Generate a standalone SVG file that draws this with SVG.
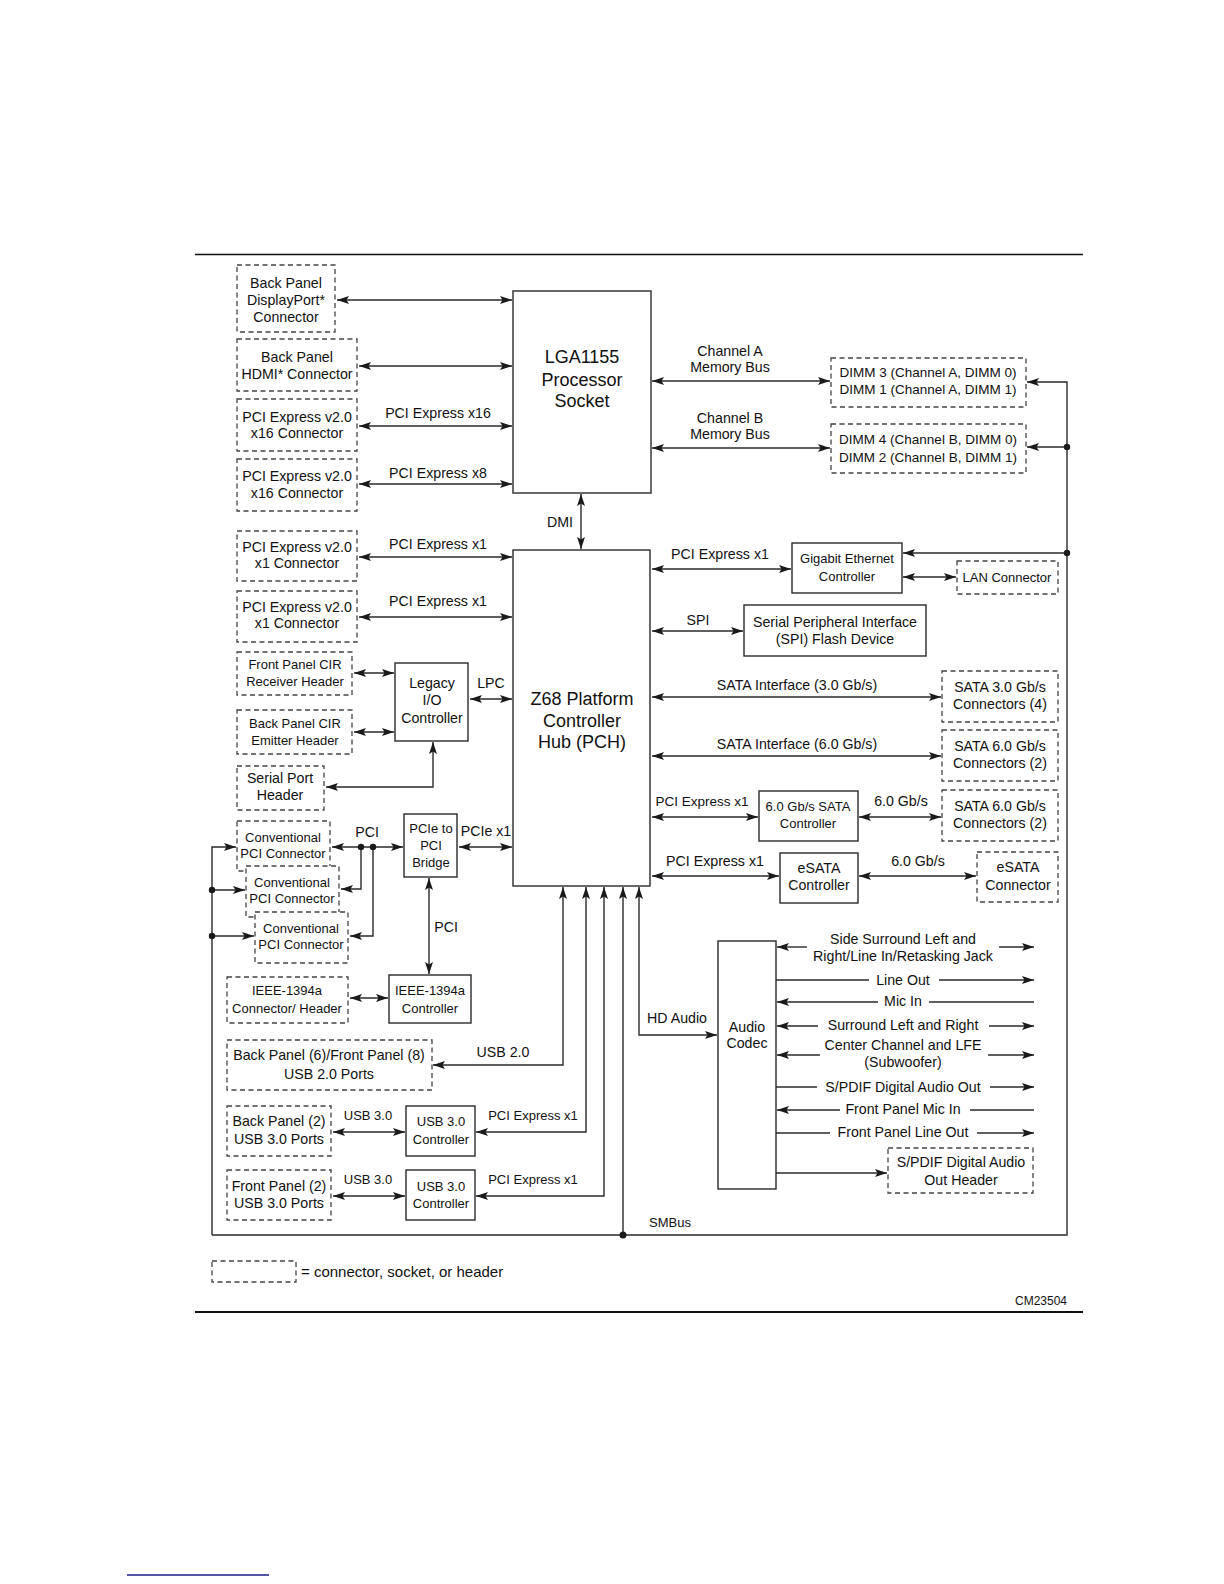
<svg xmlns="http://www.w3.org/2000/svg" width="1224" height="1584" viewBox="0 0 1224 1584">
<defs>
<marker id="ah" viewBox="0 0 12 8" refX="12" refY="4" markerWidth="12" markerHeight="8" markerUnits="userSpaceOnUse" orient="auto-start-reverse">
<path d="M0,0 L12,4 L0,8 L2.5,4 z" fill="#1a1a1a"/>
</marker>
<style>
text{font-family:"Liberation Sans",Arial,sans-serif;font-size:14.2px;fill:#111;text-anchor:middle}
.big{font-size:18px}
.s13{font-size:13px}
.s135{font-size:13.5px}
.solid{fill:#fff;stroke:#2a2a2a;stroke-width:1.4}
.dash{fill:#fff;stroke:#444;stroke-width:1.3;stroke-dasharray:5 3.5}
.ln{fill:none;stroke:#2a2a2a;stroke-width:1.4}
.bi{marker-start:url(#ah);marker-end:url(#ah)}
.en{marker-end:url(#ah)}
.dot{fill:#1a1a1a}
</style>
</defs>
<rect width="1224" height="1584" fill="#fff"/>
<line x1="195" y1="254.5" x2="1083" y2="254.5" stroke="#111" stroke-width="1.5"/>
<line x1="195" y1="1312" x2="1083" y2="1312" stroke="#111" stroke-width="2.2"/>
<line x1="127" y1="1575" x2="269" y2="1575" stroke="#1c1c8a" stroke-width="1.5"/>
<text x="1067" y="1305" style="text-anchor:end;font-size:12px">CM23504</text>

<g id="connectors">
<line class="ln bi" x1="337" y1="300" x2="512" y2="300"/>
<line class="ln bi" x1="359" y1="366" x2="512" y2="366"/>
<line class="ln bi" x1="359" y1="426" x2="512" y2="426"/>
<text x="438" y="418">PCI Express x16</text>
<line class="ln bi" x1="359" y1="484" x2="512" y2="484"/>
<text x="438" y="478">PCI Express x8</text>
<line class="ln bi" x1="652" y1="381" x2="830" y2="381"/>
<text x="730" y="356">Channel A</text><text x="730" y="372">Memory Bus</text>
<line class="ln bi" x1="652" y1="448" x2="830" y2="448"/>
<text x="730" y="423">Channel B</text><text x="730" y="439">Memory Bus</text>
<line class="ln bi" x1="581" y1="494" x2="581" y2="549"/>
<text x="560" y="527">DMI</text>
<line class="ln bi" x1="359" y1="557" x2="512" y2="557"/>
<text x="438" y="549">PCI Express x1</text>
<line class="ln bi" x1="359" y1="617" x2="512" y2="617"/>
<text x="438" y="606">PCI Express x1</text>
<line class="ln bi" x1="354" y1="673" x2="394" y2="673"/>
<line class="ln bi" x1="354" y1="732" x2="394" y2="732"/>
<line class="ln bi" x1="470" y1="699" x2="512" y2="699"/>
<text x="491" y="688">LPC</text>
<path class="ln bi" d="M433,742 V787 H326"/>
<line class="ln bi" x1="332" y1="847" x2="403" y2="847"/>
<text x="367" y="837">PCI</text>
<path class="ln en" d="M361,847 V889 H341"/>
<path class="ln en" d="M373,847 V936 H350"/>
<circle class="dot" cx="361" cy="847" r="3.2"/>
<circle class="dot" cx="373" cy="847" r="3.2"/>
<line class="ln bi" x1="459" y1="847" x2="512" y2="847"/>
<text x="486" y="836">PCIe x1</text>
<line class="ln bi" x1="429" y1="878" x2="429" y2="974"/>
<text x="446" y="932">PCI</text>
<line class="ln bi" x1="350" y1="998" x2="388" y2="998"/>
<path class="ln en" d="M212,1235 V847 H236"/>
<line class="ln en" x1="212" y1="890" x2="245" y2="890"/>
<line class="ln en" x1="212" y1="936" x2="254" y2="936"/>
<circle class="dot" cx="212" cy="890" r="3.2"/>
<circle class="dot" cx="212" cy="936" r="3.2"/>
<path class="ln en" d="M212,1235 H1067 V382 H1027"/>
<line class="ln en" x1="1067" y1="447" x2="1027" y2="447"/>
<line class="ln en" x1="1067" y1="553" x2="903" y2="553"/>
<circle class="dot" cx="1067" cy="447" r="3.2"/>
<circle class="dot" cx="1067" cy="553" r="3.2"/>
<line class="ln en" x1="623" y1="1235" x2="623" y2="887"/>
<circle class="dot" cx="623" cy="1235" r="3.5"/>
<text class="s13" x="649" y="1227" style="text-anchor:start">SMBus</text>
<path class="ln bi" d="M563,887 V1065 H433"/>
<text x="503" y="1057">USB 2.0</text>
<path class="ln bi" d="M586,887 V1132 H476"/>
<text class="s13" x="533" y="1120">PCI Express x1</text>
<path class="ln bi" d="M604,887 V1196 H476"/>
<text class="s13" x="533" y="1184">PCI Express x1</text>
<line class="ln bi" x1="333" y1="1132" x2="405" y2="1132"/>
<text class="s13" x="368" y="1120">USB 3.0</text>
<line class="ln bi" x1="333" y1="1196" x2="405" y2="1196"/>
<text class="s13" x="368" y="1184">USB 3.0</text>
<path class="ln bi" d="M639,887 V1035 H717"/>
<text x="677" y="1023">HD Audio</text>
<line class="ln bi" x1="652" y1="569" x2="791" y2="569"/>
<text x="720" y="559">PCI Express x1</text>
<line class="ln bi" x1="903" y1="577" x2="956" y2="577"/>
<line class="ln bi" x1="652" y1="631" x2="743" y2="631"/>
<text x="698" y="625">SPI</text>
<line class="ln bi" x1="652" y1="697" x2="941" y2="697"/>
<text x="797" y="690">SATA Interface (3.0 Gb/s)</text>
<line class="ln bi" x1="652" y1="756" x2="941" y2="756"/>
<text x="797" y="749">SATA Interface (6.0 Gb/s)</text>
<line class="ln bi" x1="652" y1="817" x2="758" y2="817"/>
<text class="s135" x="702" y="806">PCI Express x1</text>
<line class="ln bi" x1="859" y1="817" x2="941" y2="817"/>
<text x="901" y="806">6.0 Gb/s</text>
<line class="ln bi" x1="652" y1="876" x2="779" y2="876"/>
<text x="715" y="866">PCI Express x1</text>
<line class="ln bi" x1="859" y1="876" x2="976" y2="876"/>
<text x="918" y="866">6.0 Gb/s</text>
<!-- audio -->
<line class="ln en" x1="807" y1="947" x2="777" y2="947"/>
<line class="ln en" x1="999" y1="947" x2="1034" y2="947"/>
<text x="903" y="944">Side Surround Left and</text>
<text x="903" y="961">Right/Line In/Retasking Jack</text>
<line class="ln" x1="776" y1="980" x2="869" y2="980"/>
<line class="ln en" x1="939" y1="980" x2="1034" y2="980"/>
<text x="903" y="985">Line Out</text>
<line class="ln en" x1="878" y1="1002" x2="777" y2="1002"/>
<line class="ln" x1="929" y1="1002" x2="1034" y2="1002"/>
<text x="903" y="1006">Mic In</text>
<line class="ln en" x1="818" y1="1026" x2="777" y2="1026"/>
<line class="ln en" x1="989" y1="1026" x2="1034" y2="1026"/>
<text x="903" y="1030">Surround Left and Right</text>
<line class="ln en" x1="820" y1="1055" x2="777" y2="1055"/>
<line class="ln en" x1="988" y1="1055" x2="1034" y2="1055"/>
<text x="903" y="1050">Center Channel and LFE</text>
<text x="903" y="1067">(Subwoofer)</text>
<line class="ln" x1="776" y1="1087" x2="817" y2="1087"/>
<line class="ln en" x1="990" y1="1087" x2="1034" y2="1087"/>
<text x="903" y="1092">S/PDIF Digital Audio Out</text>
<line class="ln en" x1="840" y1="1110" x2="777" y2="1110"/>
<line class="ln" x1="970" y1="1110" x2="1034" y2="1110"/>
<text x="903" y="1114">Front Panel Mic In</text>
<line class="ln" x1="776" y1="1133" x2="830" y2="1133"/>
<line class="ln en" x1="977" y1="1133" x2="1034" y2="1133"/>
<text x="903" y="1137">Front Panel Line Out</text>
<line class="ln en" x1="776" y1="1173" x2="887" y2="1173"/>
</g>

<g id="dp"><rect class="dash" x="237" y="265" width="98" height="67"/><text x="286" y="288">Back Panel</text><text x="286" y="305">DisplayPort*</text><text x="286" y="322">Connector</text></g>
<g id="hdmi"><rect class="dash" x="237" y="339" width="120" height="52"/><text x="297" y="362">Back Panel</text><text x="297" y="379">HDMI* Connector</text></g>
<g id="pcie16a"><rect class="dash" x="237" y="399" width="120" height="52"/><text x="297" y="422">PCI Express v2.0</text><text x="297" y="438">x16 Connector</text></g>
<g id="pcie16b"><rect class="dash" x="237" y="459" width="120" height="52"/><text x="297" y="481">PCI Express v2.0</text><text x="297" y="498">x16 Connector</text></g>
<g id="lga"><rect class="solid" x="513" y="291" width="138" height="202"/><text class="big" x="582" y="363">LGA1155</text><text class="big" x="582" y="386">Processor</text><text class="big" x="582" y="407">Socket</text></g>
<g id="dimmA"><rect class="dash" x="831" y="358" width="195" height="49"/><text class="s135" x="928" y="377">DIMM 3 (Channel A, DIMM 0)</text><text class="s135" x="928" y="394">DIMM 1 (Channel A, DIMM 1)</text></g>
<g id="dimmB"><rect class="dash" x="831" y="424" width="195" height="49"/><text class="s135" x="928" y="444">DIMM 4 (Channel B, DIMM 0)</text><text class="s135" x="928" y="462">DIMM 2 (Channel B, DIMM 1)</text></g>
<g id="pcie1a"><rect class="dash" x="237" y="531" width="120" height="50"/><text x="297" y="552">PCI Express v2.0</text><text x="297" y="568">x1 Connector</text></g>
<g id="pcie1b"><rect class="dash" x="237" y="591" width="120" height="51"/><text x="297" y="612">PCI Express v2.0</text><text x="297" y="628">x1 Connector</text></g>
<g id="frontcir"><rect class="dash" x="237" y="652" width="115" height="43"/><text class="s13" x="295" y="669">Front Panel CIR</text><text class="s13" x="295" y="686">Receiver Header</text></g>
<g id="backcir"><rect class="dash" x="237" y="710" width="115" height="44"/><text class="s13" x="295" y="728">Back Panel CIR</text><text class="s13" x="295" y="745">Emitter Header</text></g>
<g id="legacy"><rect class="solid" x="395" y="663" width="73" height="78"/><text x="432" y="688">Legacy</text><text x="432" y="705">I/O</text><text x="432" y="723">Controller</text></g>
<g id="serial"><rect class="dash" x="237" y="766" width="87" height="44"/><text x="280" y="783">Serial Port</text><text x="280" y="800">Header</text></g>
<g id="conv1"><rect class="dash" x="237" y="821" width="93" height="50"/><text class="s13" x="283" y="842">Conventional</text><text class="s13" x="283" y="858">PCI Connector</text></g>
<g id="conv2"><rect class="dash" x="246" y="866" width="93" height="51"/><text class="s13" x="292" y="887">Conventional</text><text class="s13" x="292" y="903">PCI Connector</text></g>
<g id="conv3"><rect class="dash" x="255" y="912" width="93" height="51"/><text class="s13" x="301" y="933">Conventional</text><text class="s13" x="301" y="949">PCI Connector</text></g>
<g id="bridge"><rect class="solid" x="404" y="814" width="53" height="63"/><text class="s13" x="431" y="833">PCIe to</text><text class="s13" x="431" y="850">PCI</text><text class="s13" x="431" y="867">Bridge</text></g>
<g id="ieeeconn"><rect class="dash" x="227" y="977" width="121" height="46"/><text class="s13" x="287" y="995">IEEE-1394a</text><text class="s13" x="287" y="1013">Connector/ Header</text></g>
<g id="ieeectrl"><rect class="solid" x="389" y="975" width="82" height="48"/><text class="s13" x="430" y="995">IEEE-1394a</text><text class="s13" x="430" y="1013">Controller</text></g>
<g id="usb2"><rect class="dash" x="227" y="1040" width="205" height="50"/><text x="329" y="1060">Back Panel (6)/Front Panel (8)</text><text x="329" y="1079">USB 2.0 Ports</text></g>
<g id="usb3bp"><rect class="dash" x="227" y="1106" width="104" height="50"/><text x="279" y="1126">Back Panel (2)</text><text x="279" y="1144">USB 3.0 Ports</text></g>
<g id="usb3ctl1"><rect class="solid" x="406" y="1106" width="69" height="50"/><text class="s13" x="441" y="1126">USB 3.0</text><text class="s13" x="441" y="1144">Controller</text></g>
<g id="usb3fp"><rect class="dash" x="227" y="1170" width="104" height="50"/><text x="279" y="1191">Front Panel (2)</text><text x="279" y="1208">USB 3.0 Ports</text></g>
<g id="usb3ctl2"><rect class="solid" x="406" y="1170" width="69" height="50"/><text class="s13" x="441" y="1191">USB 3.0</text><text class="s13" x="441" y="1208">Controller</text></g>
<g id="pch"><rect class="solid" x="513" y="550" width="137" height="336"/><text class="big" x="582" y="705">Z68 Platform</text><text class="big" x="582" y="727">Controller</text><text class="big" x="582" y="748">Hub (PCH)</text></g>
<g id="gbe"><rect class="solid" x="792" y="543" width="110" height="50"/><text class="s13" x="847" y="563">Gigabit Ethernet</text><text class="s13" x="847" y="581">Controller</text></g>
<g id="lan"><rect class="dash" x="957" y="561" width="101" height="33"/><text class="s13" x="1007" y="582">LAN Connector</text></g>
<g id="spi"><rect class="solid" x="744" y="605" width="182" height="51"/><text x="835" y="627">Serial Peripheral Interface</text><text x="835" y="644">(SPI) Flash Device</text></g>
<g id="sata3"><rect class="dash" x="942" y="671" width="116" height="51"/><text x="1000" y="692">SATA 3.0 Gb/s</text><text x="1000" y="709">Connectors (4)</text></g>
<g id="sata6a"><rect class="dash" x="942" y="730" width="116" height="51"/><text x="1000" y="751">SATA 6.0 Gb/s</text><text x="1000" y="768">Connectors (2)</text></g>
<g id="satactl"><rect class="solid" x="759" y="791" width="99" height="50"/><text class="s13" x="808" y="811">6.0 Gb/s SATA</text><text class="s13" x="808" y="828">Controller</text></g>
<g id="sata6b"><rect class="dash" x="942" y="790" width="116" height="51"/><text x="1000" y="811">SATA 6.0 Gb/s</text><text x="1000" y="828">Connectors (2)</text></g>
<g id="esatactl"><rect class="solid" x="780" y="853" width="78" height="50"/><text x="819" y="873">eSATA</text><text x="819" y="890">Controller</text></g>
<g id="esataconn"><rect class="dash" x="977" y="852" width="81" height="50"/><text x="1018" y="872">eSATA</text><text x="1018" y="890">Connector</text></g>
<g id="codec"><rect class="solid" x="718" y="941" width="58" height="248"/><text x="747" y="1032">Audio</text><text x="747" y="1048">Codec</text></g>
<g id="spdifhdr"><rect class="dash" x="888" y="1148" width="145" height="45"/><text x="961" y="1167">S/PDIF Digital Audio</text><text x="961" y="1185">Out Header</text></g>
<g id="legend"><rect class="dash" x="212" y="1261" width="84" height="21"/><text x="301" y="1277" style="text-anchor:start;font-size:15px">= connector, socket, or header</text></g>
</svg>
